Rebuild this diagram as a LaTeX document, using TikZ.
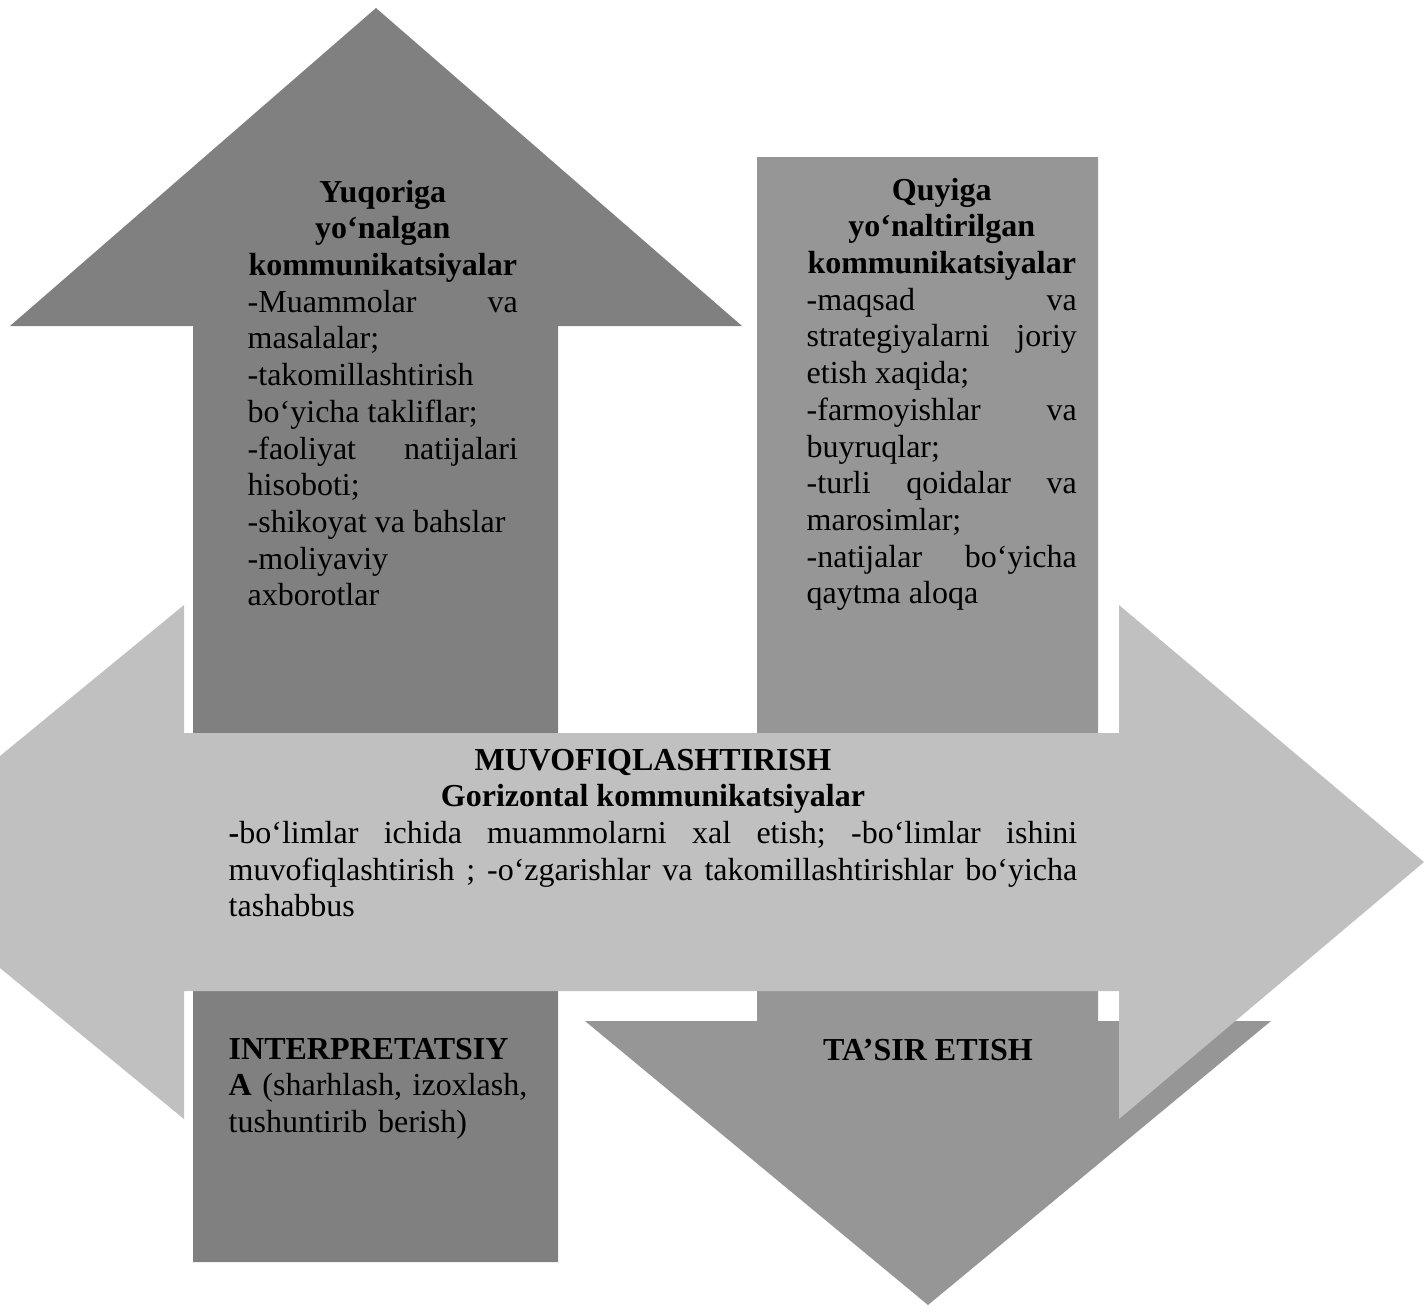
\documentclass[tikz,border=0pt]{standalone}
\usepackage{fontspec}
\setmainfont{Liberation Serif}
\definecolor{UpGray}{RGB}{128,128,128}
\definecolor{DownGray}{RGB}{150,150,150}
\definecolor{SideGray}{RGB}{192,192,192}
\setlength{\parindent}{0pt}
\frenchspacing
\tolerance=9999
\hyphenpenalty=10000
\exhyphenpenalty=10000

\begin{document}
\begin{tikzpicture}[x=0.01cm, y=-0.01cm,
  every node/.style={font=\fontsize{9.1pt}{10.44pt}\selectfont, inner sep=0pt},
  txtblock/.style={anchor=base west, align=justify}]
  \useasboundingbox (0,0) rectangle (1424,1311);
  % upward arrow, its shaft runs on to the bottom box
  \fill[UpGray] (193,1262) -- (193,326) -- (10,326) -- (376,8) -- (742,326)
    -- (558,326) -- (558,1262) -- cycle;
  % downward arrow
  \fill[DownGray] (757,157) -- (1098,157) -- (1098,1021) -- (1271,1021)
    -- (928,1305) -- (585,1021) -- (757,1021) -- cycle;
  % horizontal double arrow, cut at the left edge
  \fill[SideGray] (0,756) -- (184,605) -- (184,733) -- (1119,733) -- (1119,605)
    -- (1424,862) -- (1119,1119) -- (1119,991) -- (184,991) -- (184,1119)
    -- (0,968) -- cycle;

  \node[txtblock, text width=2.70cm] (upward) at (247,202)
    {{\centering\bfseries Yuqoriga\\ yo‘nalgan\\ kommunikatsiyalar\par}
     -Muammolar va\linebreak masalalar;\\ -takomillashtirish\\ bo‘yicha takliflar;\\
     -faoliyat natijalari\linebreak hisoboti;\\ -shikoyat va bahslar\\ -moliyaviy\\ axborotlar};
  \node[txtblock, text width=2.70cm] (downward) at (806,200)
    {{\centering\bfseries Quyiga\\ yo‘naltirilgan\\ kommunikatsiyalar\par}
     -maqsad va\linebreak strategiyalarni joriy\linebreak etish xaqida;\\
     -farmoyishlar va\linebreak buyruqlar;\\ -turli qoidalar va\linebreak marosimlar;\\
     -natijalar bo‘yicha\linebreak qaytma aloqa};
  \node[txtblock, text width=8.48cm] (sideways) at (228,770)
    {{\centering\bfseries MUVOFIQLASHTIRISH\\ Gorizontal kommunikatsiyalar\par}
     \textbf{-}bo‘limlar ichida muammolarni xal etish; -bo‘limlar ishini\linebreak
     muvofiqlashtirish ; -o‘zgarishlar va takomillashtirishlar bo‘yicha\linebreak
     tashabbus};
  \node[txtblock, align=left, text width=3.15cm] (interp) at (228,1059)
    {\textbf{INTERPRETATSIY}\\ \textbf{A} (sharhlash, izoxlash,\\ tushuntirib berish)};
  \node[anchor=base] (tasir) at (928,1060) {\bfseries TA’SIR ETISH};
\end{tikzpicture}
\end{document}
